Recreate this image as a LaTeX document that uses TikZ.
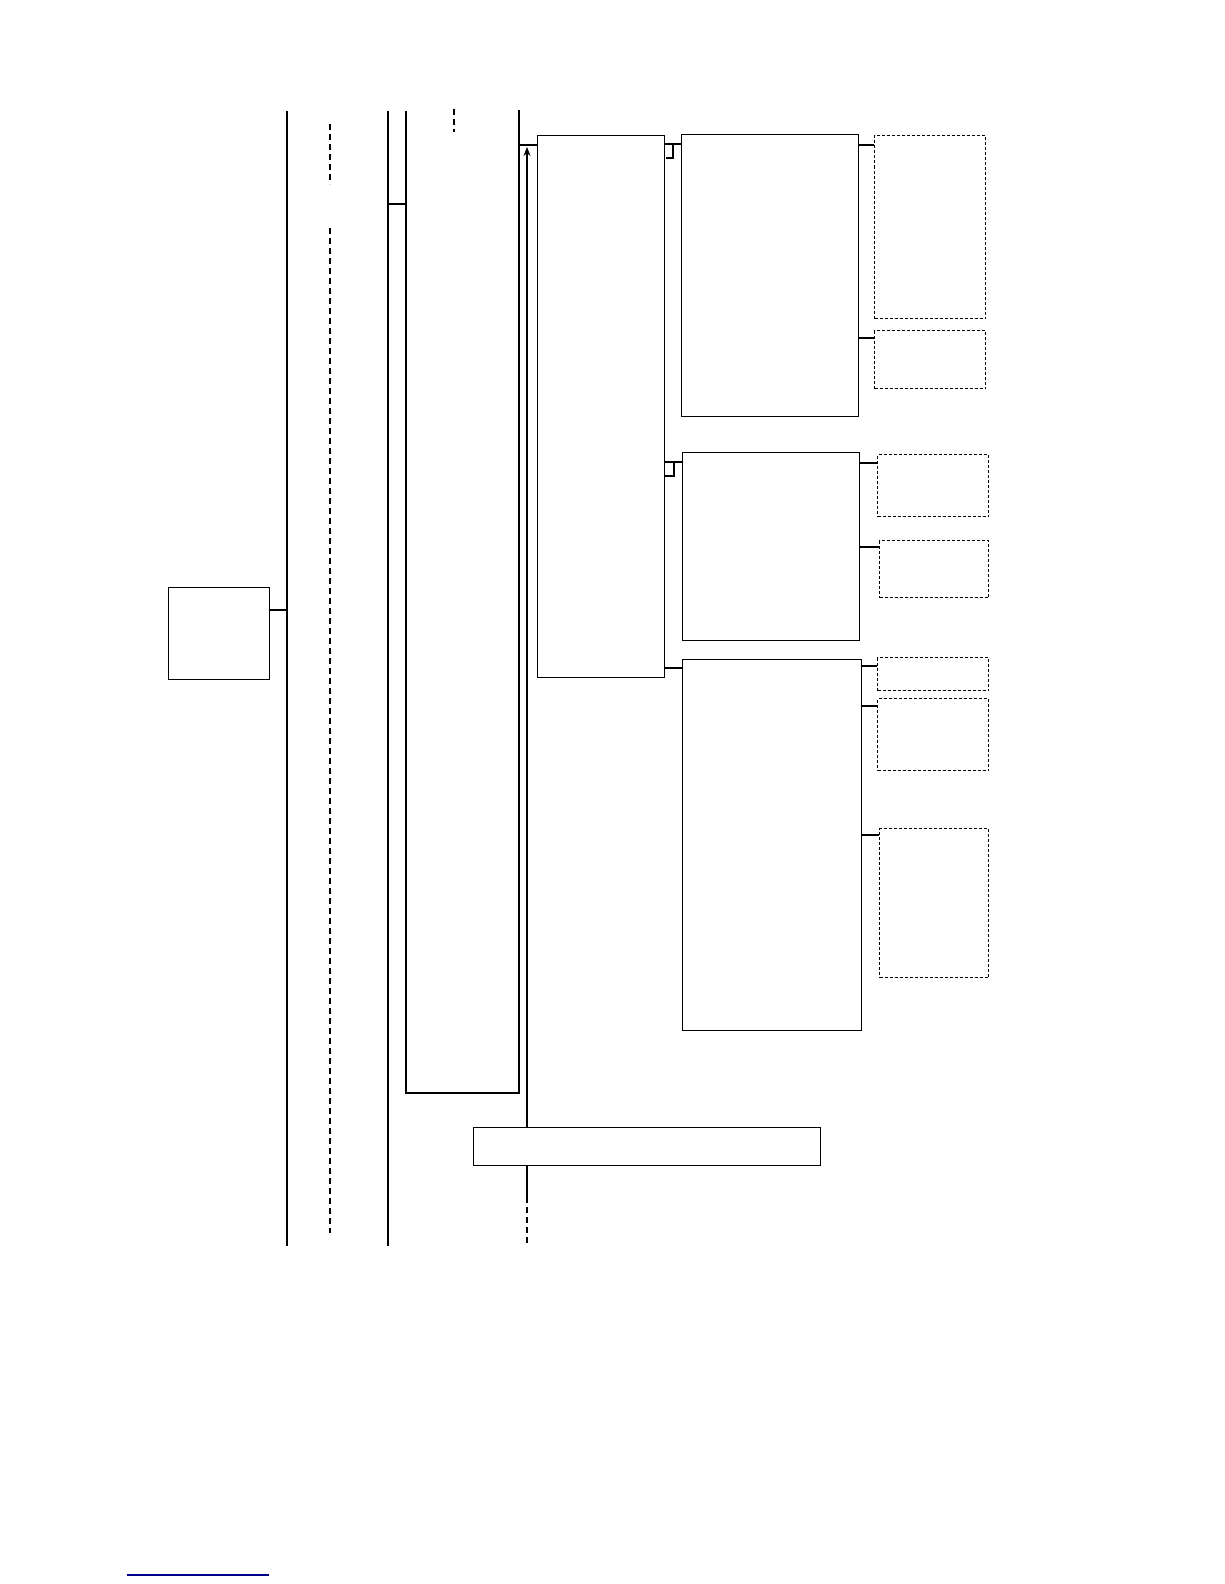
\documentclass[tikz,border=0pt]{standalone}
\usepackage{amsmath}
\usepackage{amssymb}
\usepackage{tikz}
\usetikzlibrary{shapes,arrows.meta}

\begin{document}
\begin{tikzpicture}[x=1pt,y=-1pt,line width=1.1pt,
		box/.style={rectangle,draw,anchor=north west,inner sep=0pt},
		note/.style={box,line width=1pt,dash pattern=on 3pt off 2pt},
		life/.style={dash pattern=on 6pt off 4pt}]

			\useasboundingbox (0,0) rectangle (1224,1584);

			% lifelines
			\coordinate (l1) at (287,111);
			\coordinate (l1e) at (287,1246);
			\coordinate (l3) at (388,111);
			\coordinate (l3e) at (388,1246);
			\coordinate (ac) at (406,111);
			\coordinate (ace) at (519,110);
			\coordinate (acb) at (519,1093);

			\path[draw] (l1) -- (l1e);
			\path[draw,life] (330,124) -- (330,184);
			\path[draw,life] (330,228) -- (330,1233);
			\path[draw] (l3) -- (l3e);
			\path[draw,life] (454,109) -- (454,132);
			\path[draw] (ac) |- (acb) -- (ace);
			\path[draw] (388,204) -- (406,204);

			% boxes
			\node[box,minimum width=101pt,minimum height=92pt] (lbox) at (168,587) {};
			\node[box,minimum width=127pt,minimum height=542pt] (main) at (537,135) {};
			\node[box,minimum width=177pt,minimum height=282pt] (subA) at (681,134) {};
			\node[box,minimum width=177pt,minimum height=188pt] (subB) at (682,452) {};
			\node[box,minimum width=179pt,minimum height=371pt] (subC) at (682,659) {};
			\node[box,minimum width=347pt,minimum height=38pt] (bot) at (473,1127) {};

			\node[note,minimum width=111pt,minimum height=183pt] (dA1) at (874,135) {};
			\node[note,minimum width=111pt,minimum height=58pt] (dA2) at (874,330) {};
			\node[note,minimum width=111pt,minimum height=62pt] (dB1) at (877,454) {};
			\node[note,minimum width=109pt,minimum height=57pt] (dB2) at (879,540) {};
			\node[note,minimum width=111pt,minimum height=33pt] (dC1) at (877,657) {};
			\node[note,minimum width=111pt,minimum height=72pt] (dC2) at (877,698) {};
			\node[note,minimum width=109pt,minimum height=149pt] (dC3) at (879,828) {};

			% connectors
			\coordinate (p0) at (287,610);
			\path[draw] (p0 -| lbox.east) -- (p0);
			\coordinate (p1) at (519,145);
			\path[draw] (p1) -- (p1 -| main.west);

			\coordinate (pA) at (673,144);
			\path[draw] (pA -| main.east) -- (pA -| subA.west);
			\path[draw] (pA) -- (673,158) -- (666,158);
			\coordinate (pB) at (674,462);
			\path[draw] (pB -| main.east) -- (pB -| subB.west);
			\path[draw] (pB) -- (674,476) -- (665,476);
			\coordinate (pC) at (670,668);
			\path[draw] (pC -| main.east) -- (pC -| subC.west);

			\coordinate (qA1) at (866,145);
			\coordinate (qA2) at (866,338);
			\coordinate (qB1) at (866,463);
			\coordinate (qB2) at (866,547);
			\coordinate (qC1) at (866,666);
			\coordinate (qC2) at (866,706);
			\coordinate (qC3) at (866,835);
			\path[draw] (qA1 -| subA.east) -- (qA1 -| dA1.west);
			\path[draw] (qA2 -| subA.east) -- (qA2 -| dA2.west);
			\path[draw] (qB1 -| subB.east) -- (qB1 -| dB1.west);
			\path[draw] (qB2 -| subB.east) -- (qB2 -| dB2.west);
			\path[draw] (qC1 -| subC.east) -- (qC1 -| dC1.west);
			\path[draw] (qC2 -| subC.east) -- (qC2 -| dC2.west);
			\path[draw] (qC3 -| subC.east) -- (qC3 -| dC3.west);

			% return arrow and bottom lifeline
			\coordinate (r) at (527,147);
			\coordinate (rb) at (527,1197);
			\coordinate (re) at (527,1246);
			\path[-{Stealth[length=9pt,width=7pt]},draw] (bot.north -| r) -- (r);
			\path[draw] (bot.south -| r) -- (rb);
			\path[draw,life] (rb) -- (re);

			% footnote rule
			\path[draw,line width=1.1pt,color={rgb,255:red,0;green,0;blue,140}] (127,1575) -- (269,1575);

\end{tikzpicture}
\end{document}
